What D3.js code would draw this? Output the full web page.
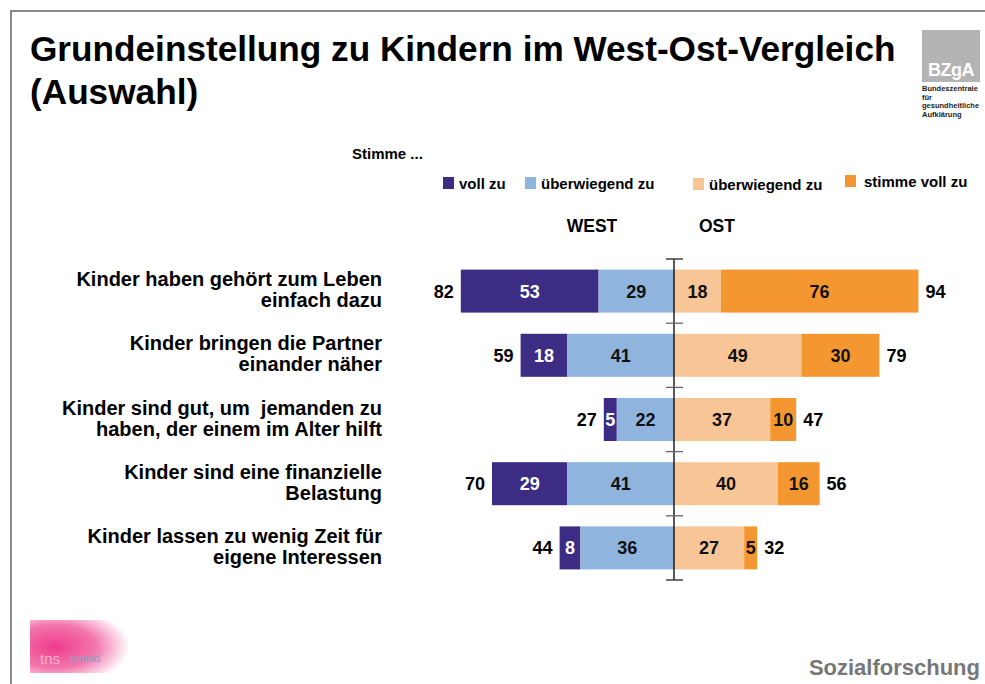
<!DOCTYPE html>
<html>
<head>
<meta charset="utf-8">
<script src="https://cdn.jsdelivr.net/npm/d3@7"></script>
<style>
  body { margin: 0; background: #fff; }
  svg { display: block; font-family: "Liberation Sans", Arial, sans-serif; }
</style>
</head>
<body>
<div id="container"></div>
<script>
// Data
const categories = [
  ["Kinder haben gehört zum Leben", "einfach dazu"],
  ["Kinder bringen die Partner", "einander näher"],
  ["Kinder sind gut, um  jemanden zu", "haben, der einem im Alter hilft"],
  ["Kinder sind eine finanzielle", "Belastung"],
  ["Kinder lassen zu wenig Zeit für", "eigene Interessen"]
];
const westVoll = [53, 18, 5, 29, 8];
const westUeberwiegend = [29, 41, 22, 41, 36];
const westTotal = [82, 59, 27, 70, 44];
const ostUeberwiegend = [18, 49, 37, 40, 27];
const ostVoll = [76, 30, 10, 16, 5];
const ostTotal = [94, 79, 47, 56, 32];
const legendLabels = ["voll zu", "überwiegend zu", "überwiegend zu", "stimme voll zu"];
const colors = ["#3c2c84", "#8fb5de", "#f8c696", "#f59730"];

const width = 985;
const height = 684;

const svg = d3.create("svg").attr("width", width).attr("height", height);

// Frame
svg.append("path")
  .attr("d", `M11,${height} V11 H${width}`)
  .attr("fill", "none")
  .attr("stroke", "#8a8a8a")
  .attr("stroke-width", 2);

// Title
const title = svg.append("text")
  .attr("x", 30)
  .attr("font-size", "35.2px")
  .attr("font-weight", "bold")
  .attr("fill", "#000");
title.append("tspan").attr("x", 30).attr("y", 61).text("Grundeinstellung zu Kindern im West-Ost-Vergleich");
title.append("tspan").attr("x", 30).attr("y", 104).text("(Auswahl)");

// BZgA logo
svg.append("rect").attr("x", 922).attr("y", 30).attr("width", 58).attr("height", 52).attr("fill", "#b4b4b4");
svg.append("text").attr("x", 951).attr("y", 76).attr("text-anchor", "middle")
  .attr("font-size", "18px").attr("font-weight", "bold").attr("fill", "#fff")
  .attr("letter-spacing", "-0.5").text("BZgA");
["Bundeszentrale", "für", "gesundheitliche", "Aufklärung"].forEach((t, i) => {
  svg.append("text").attr("x", 922).attr("y", 91 + i * 8.5)
    .attr("font-size", "7.5px").attr("font-weight", "bold").attr("fill", "#222").text(t);
});

// Scales
const x = d3.scaleLinear().domain([-100, 100]).range([414, 934]);
const y = d3.scaleBand()
  .domain(d3.range(categories.length))
  .range([259, 580])
  .paddingInner(0.33)
  .paddingOuter(0.165);

// "Stimme ..." and legend
svg.append("text").attr("x", 352).attr("y", 159)
  .attr("font-size", "15px").attr("font-weight", "bold").text("Stimme ...");

const legendX = [443, 525, 693, 845];
const legend = svg.append("g")
  .selectAll("g")
  .data(legendLabels)
  .join("g")
  .attr("transform", (d, i) => `translate(${legendX[i]},${i === 2 ? 178 : i === 3 ? 175 : 177})`);
legend.append("rect").attr("width", 11).attr("height", 12).attr("fill", (d, i) => colors[i]);
legend.append("text")
  .attr("x", (d, i) => i === 2 ? 16 : i === 3 ? 19 : 16)
  .attr("y", 12)
  .attr("font-size", "15px")
  .attr("font-weight", "bold")
  .text(d => d);

// WEST / OST
svg.append("text").attr("x", 592).attr("y", 232).attr("text-anchor", "middle")
  .attr("font-size", "17.5px").attr("font-weight", "bold").text("WEST");
svg.append("text").attr("x", 717).attr("y", 232).attr("text-anchor", "middle")
  .attr("font-size", "17.5px").attr("font-weight", "bold").text("OST");

// Segments
const segments = [];
categories.forEach((c, i) => {
  segments.push({ row: i, x0: -westTotal[i], x1: -westUeberwiegend[i], v: westVoll[i], c: 0 });
  segments.push({ row: i, x0: -westUeberwiegend[i], x1: 0, v: westUeberwiegend[i], c: 1 });
  segments.push({ row: i, x0: 0, x1: ostUeberwiegend[i], v: ostUeberwiegend[i], c: 2 });
  segments.push({ row: i, x0: ostUeberwiegend[i], x1: ostTotal[i], v: ostVoll[i], c: 3 });
});

svg.append("g")
  .selectAll("rect")
  .data(segments)
  .join("rect")
  .attr("x", d => x(d.x0))
  .attr("y", d => y(d.row))
  .attr("width", d => x(d.x1) - x(d.x0))
  .attr("height", y.bandwidth())
  .attr("fill", d => colors[d.c]);

svg.append("g")
  .selectAll("text")
  .data(segments)
  .join("text")
  .attr("x", d => (x(d.x0) + x(d.x1)) / 2)
  .attr("y", d => y(d.row) + y.bandwidth() / 2 + 6.5)
  .attr("text-anchor", "middle")
  .attr("font-size", "18px")
  .attr("font-weight", "bold")
  .attr("fill", d => d.c === 0 ? "#fff" : "#111")
  .text(d => d.v);

// Totals
svg.append("g")
  .selectAll("text")
  .data(westTotal)
  .join("text")
  .attr("x", d => x(-d) - 7)
  .attr("y", (d, i) => y(i) + y.bandwidth() / 2 + 6.5)
  .attr("text-anchor", "end")
  .attr("font-size", "18px")
  .attr("font-weight", "bold")
  .text(d => d);

svg.append("g")
  .selectAll("text")
  .data(ostTotal)
  .join("text")
  .attr("x", d => x(d) + 7)
  .attr("y", (d, i) => y(i) + y.bandwidth() / 2 + 6.5)
  .attr("font-size", "18px")
  .attr("font-weight", "bold")
  .text(d => d);

// Category labels
const labels = svg.append("g")
  .selectAll("text")
  .data(categories)
  .join("text")
  .attr("text-anchor", "end")
  .attr("font-size", "20px")
  .attr("font-weight", "bold")
  .attr("fill", "#000");
labels.each(function (d, i) {
  const cy = y(i) + y.bandwidth() / 2;
  d.forEach((line, j) => {
    d3.select(this).append("tspan")
      .attr("x", 382)
      .attr("y", cy - 5 + j * 21)
      .attr("style", "white-space: pre")
      .text(line);
  });
});

// Center axis with ticks between rows
const step = y.step();
const tickYs = d3.range(categories.length + 1).map(i => 259 + i * step);
svg.append("line")
  .attr("x1", x(0)).attr("x2", x(0))
  .attr("y1", 259).attr("y2", tickYs[tickYs.length - 1])
  .attr("stroke", "#000").attr("stroke-width", 1.3);
svg.append("g")
  .selectAll("line")
  .data(tickYs)
  .join("line")
  .attr("x1", x(0) - 8).attr("x2", x(0) + 9)
  .attr("y1", d => d).attr("y2", d => d)
  .attr("stroke", (d, i) => i === 0 || i === tickYs.length - 1 ? "#222" : "#666")
  .attr("stroke-width", 1.3);

// Bottom-left logo (approximation)
const defs = svg.append("defs");
const grad = defs.append("radialGradient").attr("id", "pinkblob").attr("cx", "25%").attr("cy", "50%").attr("r", "75%");
grad.append("stop").attr("offset", "0%").attr("stop-color", "#ef3b8c");
grad.append("stop").attr("offset", "55%").attr("stop-color", "#f277ad");
grad.append("stop").attr("offset", "100%").attr("stop-color", "#fff");
svg.append("rect").attr("x", 30).attr("y", 620).attr("width", 100).attr("height", 53).attr("fill", "url(#pinkblob)");
svg.append("text").attr("x", 40).attr("y", 664).attr("font-size", "15px").attr("fill", "#f7b3cf").text("tns");
svg.append("text").attr("x", 70).attr("y", 662).attr("font-size", "11px").attr("fill", "#8aa0c0").text("emnid");

// Footer
svg.append("text").attr("x", 980).attr("y", 675).attr("text-anchor", "end")
  .attr("font-size", "22px").attr("font-weight", "bold").attr("fill", "#777")
  .text("Sozialforschung");

document.getElementById("container").append(svg.node());
</script>
</body>
</html>
